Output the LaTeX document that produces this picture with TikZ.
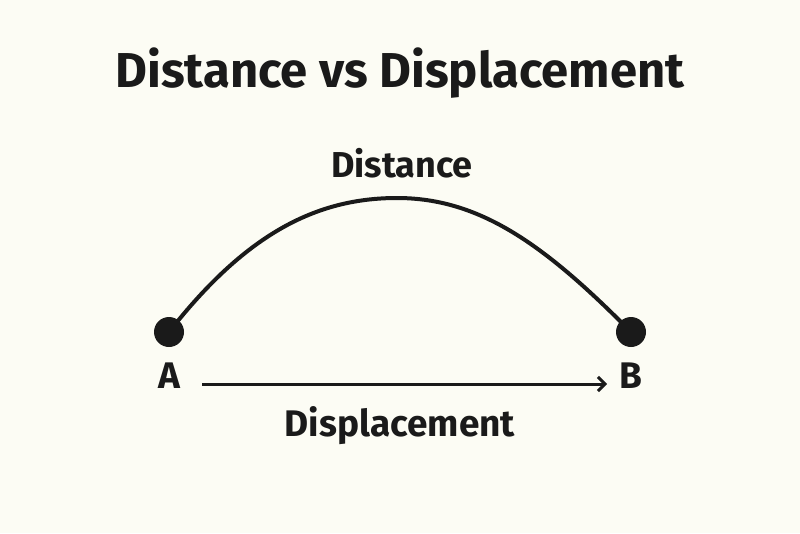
\documentclass[tikz,border=0pt]{standalone}
\usepackage{fontspec}
\setmainfont{Fira Sans}
\usetikzlibrary{arrows.meta}
\definecolor{bg}{HTML}{FCFCF4}
\definecolor{ink}{HTML}{1A1A1A}
\tikzset{
  lbl/.style={text=ink, font=\bfseries, inner sep=0pt},
  dot/.style={circle, fill=ink, minimum size=30pt, inner sep=0pt},
  path/.style={draw=ink, line width=4pt},
}
\begin{document}
\begin{tikzpicture}[x=1pt,y=-1pt]
\fill[bg] (0,0) rectangle (800,533);
\useasboundingbox (0,0) rectangle (800,533);
\node[lbl, font=\fontsize{49}{50}\selectfont\bfseries, anchor=base] (title) at (400,87) {Distance vs Displacement};
\node[dot] (A) at (169,332) {};
\node[dot] (B) at (631,332) {};
\draw[path] (A.center) .. controls (245,235) and (315,198) .. (397,198) coordinate (top)
  .. controls (480,198) and (545,245) .. (B.center);
\node[lbl, font=\fontsize{36}{37}\selectfont\bfseries, anchor=base] (dist) at (402,177) {Distance};
\node[lbl, font=\fontsize{37}{38}\selectfont\bfseries, anchor=base] (la) at (169,388) {A};
\node[lbl, font=\fontsize{37}{38}\selectfont\bfseries, anchor=base] (lb) at (631,388) {B};
\coordinate (s) at (202,384);
\coordinate (e) at (607,384);
\draw[draw=ink, line width=3pt, -{Straight Barb[length=7pt,width=14pt,line width=3pt]}] (s) -- (e);
\node[lbl, font=\fontsize{37}{38}\selectfont\bfseries, anchor=base] (disp) at (400,436) {Displacement};
\end{tikzpicture}
\end{document}
